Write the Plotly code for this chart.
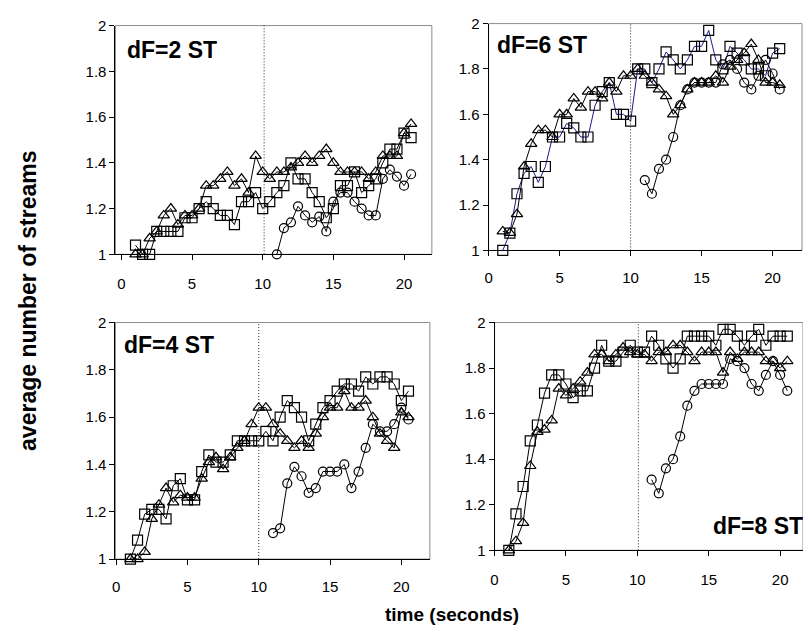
import plotly.graph_objects as go

# ---------------- data ----------------
TIME = [1, 1.5, 2, 2.5, 3, 3.5, 4, 4.5, 5, 5.5, 6, 6.5, 7, 7.5, 8, 8.5, 9, 9.5, 10, 10.5,
        11, 11.5, 12, 12.5, 13, 13.5, 14, 14.5, 15, 15.5, 16, 16.5, 17, 17.5, 18, 18.5, 19, 19.5, 20, 20.5]
TIME_LATE = [11, 11.5, 12, 12.5, 13, 13.5, 14, 14.5, 15, 15.5, 16, 16.5, 17, 17.5, 18, 18.5, 19, 19.5, 20, 20.5]

# dF = 2 ST
df2_square = [1.04, 1.0, 1.0, 1.1, 1.1, 1.1, 1.1, 1.16, 1.16, 1.2, 1.23, 1.2, 1.17, 1.17, 1.13, 1.23, 1.23, 1.27, 1.2, 1.23,
              1.27, 1.3, 1.4, 1.33, 1.33, 1.27, 1.23, 1.16, 1.2, 1.3, 1.3, 1.36, 1.27, 1.3, 1.33, 1.4, 1.46, 1.46, 1.53, 1.51]
df2_triangle = [1.0, 1.0, 1.07, 1.1, 1.17, 1.2, 1.13, 1.17, 1.17, 1.2, 1.3, 1.3, 1.33, 1.36, 1.3, 1.33, 1.27, 1.43, 1.36, 1.33,
                1.36, 1.36, 1.38, 1.4, 1.43, 1.4, 1.43, 1.46, 1.4, 1.36, 1.36, 1.36, 1.36, 1.33, 1.36, 1.43, 1.43, 1.43, 1.53, 1.57]
df2_circle = [1.0, 1.115, 1.14, 1.21, 1.17, 1.14, 1.165, 1.1, 1.23, 1.27, 1.27, 1.23, 1.2, 1.17, 1.17, 1.33, 1.37, 1.34, 1.3, 1.35]

# dF = 6 ST
df6_square = [1.0, 1.076, 1.25, 1.34, 1.37, 1.3, 1.37, 1.5, 1.5, 1.56, 1.54, 1.5, 1.5, 1.64, 1.7, 1.74, 1.6, 1.6, 1.57, 1.8,
              1.8, 1.74, 1.8, 1.875, 1.84, 1.8, 1.84, 1.9, 1.9, 1.97, 1.84, 1.8, 1.9, 1.87, 1.84, 1.8, 1.8, 1.77, 1.87, 1.89]
df6_triangle = [1.084, 1.077, 1.16, 1.37, 1.47, 1.53, 1.53, 1.5, 1.6, 1.6, 1.67, 1.63, 1.7, 1.7, 1.67, 1.74, 1.7, 1.77, 1.77, 1.8,
                1.77, 1.74, 1.71, 1.68, 1.6, 1.64, 1.71, 1.74, 1.74, 1.74, 1.77, 1.74, 1.81, 1.84, 1.87, 1.91, 1.84, 1.74, 1.74, 1.73]
df6_circle = [1.31, 1.25, 1.36, 1.4, 1.5, 1.64, 1.71, 1.74, 1.74, 1.74, 1.74, 1.82, 1.84, 1.8, 1.74, 1.71, 1.77, 1.84, 1.78, 1.71]

# dF = 4 ST
df4_square = [1.0, 1.08, 1.19, 1.21, 1.21, 1.17, 1.31, 1.34, 1.25, 1.25, 1.37, 1.44, 1.41, 1.41, 1.44, 1.5, 1.5, 1.5, 1.5, 1.54,
              1.5, 1.6, 1.67, 1.64, 1.6, 1.5, 1.57, 1.64, 1.67, 1.71, 1.74, 1.74, 1.71, 1.77, 1.74, 1.77, 1.77, 1.74, 1.67, 1.71]
df4_triangle = [1.0, 1.0, 1.03, 1.17, 1.23, 1.3, 1.24, 1.27, 1.26, 1.26, 1.34, 1.41, 1.43, 1.38, 1.43, 1.47, 1.5, 1.57, 1.64, 1.64,
                1.57, 1.53, 1.5, 1.47, 1.5, 1.47, 1.53, 1.6, 1.64, 1.64, 1.71, 1.64, 1.64, 1.67, 1.6, 1.53, 1.5, 1.47, 1.62, 1.6]
df4_circle = [1.11, 1.13, 1.32, 1.39, 1.35, 1.28, 1.3, 1.37, 1.37, 1.37, 1.4, 1.3, 1.37, 1.47, 1.57, 1.54, 1.54, 1.57, 1.64, 1.59]

# dF = 8 ST
df8_square = [1.0, 1.16, 1.28, 1.48, 1.55, 1.69, 1.77, 1.77, 1.73, 1.67, 1.7, 1.7, 1.8, 1.9, 1.83, 1.83, 1.87, 1.9, 1.87, 1.87,
              1.94, 1.9, 1.84, 1.8, 1.84, 1.94, 1.94, 1.94, 1.94, 1.9, 1.97, 1.97, 1.94, 1.9, 1.94, 1.97, 1.9, 1.94, 1.94, 1.94]
df8_triangle = [1.0, 1.04, 1.12, 1.37, 1.52, 1.53, 1.57, 1.71, 1.68, 1.71, 1.74, 1.78, 1.86, 1.86, 1.83, 1.86, 1.89, 1.87, 1.86, 1.86,
                1.83, 1.87, 1.87, 1.9, 1.9, 1.87, 1.83, 1.87, 1.87, 1.87, 1.78, 1.87, 1.84, 1.87, 1.87, 1.87, 1.83, 1.83, 1.8, 1.83]
df8_circle = [1.31, 1.25, 1.36, 1.4, 1.5, 1.635, 1.7, 1.73, 1.73, 1.73, 1.73, 1.84, 1.83, 1.8, 1.73, 1.7, 1.77, 1.83, 1.77, 1.7]

PANEL_LABELS = ["dF=2 ST", "dF=6 ST", "dF=4 ST", "dF=8 ST"]
Y_TICKS = [1, 1.2, 1.4, 1.6, 1.8, 2]
X_TICKS = [0, 5, 10, 15, 20]
Y_TITLE = "average number of streams"
X_TITLE = "time (seconds)"

# ---------------- layout helpers ----------------
W, H = 803, 643
FONT = "Liberation Sans, Arial, sans-serif"


def px_x(p):
    return p / W


def px_y(p):
    return 1 - p / H


# panel geometry in pixels: (left, right, top, bottom); label position in pixels (left x, centre y)
panels = [
    dict(box=(112, 430, 17, 252), xr=[-0.42, 21.97], sq=df2_square, tr=df2_triangle, ci=df2_circle,
         sqline="black", vline=10.1, label=PANEL_LABELS[0], lab=(122, 42), standoff=11),
    dict(box=(487, 802, 15, 248), xr=[0, 22.07], sq=df6_square, tr=df6_triangle, ci=df6_circle,
         sqline="#1a1a8c", vline=10, label=PANEL_LABELS[1], lab=(493, 37), standoff=9),
    dict(box=(112, 428, 322, 565), xr=[-0.05, 22.0], sq=df4_square, tr=df4_triangle, ci=df4_circle,
         sqline="black", vline=10, label=PANEL_LABELS[2], lab=(119, 345), standoff=9),
    dict(box=(493, 803, 322, 556), xr=[0, 21.6], sq=df8_square, tr=df8_triangle, ci=df8_circle,
         sqline="black", vline=10.07, label=PANEL_LABELS[3], lab=(711, 531), standoff=11),
]

fig = go.Figure()
layout = dict(width=W, height=H, margin=dict(l=0, r=0, t=0, b=0),
              paper_bgcolor="white", plot_bgcolor="white", showlegend=False,
              font=dict(family=FONT, color="black", size=15))
shapes = []
annotations = []

for i, p in enumerate(panels, start=1):
    xa = "x" if i == 1 else f"x{i}"
    ya = "y" if i == 1 else f"y{i}"
    l, r, t, b = p["box"]
    layout["xaxis" if i == 1 else f"xaxis{i}"] = dict(
        domain=[px_x(l), min(px_x(r), 1.0)], range=p["xr"], anchor=ya,
        tickvals=X_TICKS, ticks="outside", ticklen=5, tickcolor="black",
        showline=True, linecolor="black", linewidth=1, showgrid=False, zeroline=False,
        ticklabelstandoff=p["standoff"], tickfont=dict(size=15))
    layout["yaxis" if i == 1 else f"yaxis{i}"] = dict(
        domain=[px_y(b), px_y(t)], range=[1, 2], anchor=xa,
        tickvals=Y_TICKS, ticks="outside", ticklen=5, tickcolor="black",
        showline=True, linecolor="black", linewidth=1, showgrid=False, zeroline=False,
        tickfont=dict(size=15))

    # frame (grey top/right border)
    shapes.append(dict(type="rect", xref=f"{xa} domain", yref=f"{ya} domain",
                       x0=0, x1=1, y0=0, y1=1, line=dict(color="#8c8c8c", width=1), layer="below"))
    # dotted vertical line
    shapes.append(dict(type="line", xref=xa, yref=f"{ya} domain", x0=p["vline"], x1=p["vline"],
                       y0=0, y1=1, line=dict(color="#222222", width=1, dash="1px,2px")))

    fig.add_trace(go.Scatter(x=TIME, y=p["sq"], xaxis=xa, yaxis=ya, mode="lines+markers",
                             line=dict(color=p["sqline"], width=1),
                             marker=dict(symbol="square-open", size=10, color="black",
                                         line=dict(width=1.2, color="black")),
                             cliponaxis=False))
    fig.add_trace(go.Scatter(x=TIME, y=p["tr"], xaxis=xa, yaxis=ya, mode="lines+markers",
                             line=dict(color="black", width=1),
                             marker=dict(symbol="triangle-up-open", size=10, color="black",
                                         line=dict(width=1.2, color="black")),
                             cliponaxis=False))
    fig.add_trace(go.Scatter(x=TIME_LATE, y=p["ci"], xaxis=xa, yaxis=ya, mode="lines+markers",
                             line=dict(color="black", width=1),
                             marker=dict(symbol="circle-open", size=9, color="black",
                                         line=dict(width=1.2, color="black")),
                             cliponaxis=False))

    lx, ly = p["lab"]
    annotations.append(dict(text=f"<b>{p['label']}</b>", xref="paper", yref="paper",
                            x=px_x(lx), y=px_y(ly), xanchor="left", yanchor="middle", showarrow=False,
                            font=dict(size=23, family=FONT)))

annotations.append(dict(text=f"<b>{Y_TITLE}</b>", xref="paper", yref="paper", x=px_x(24), y=px_y(300),
                        textangle=-90, showarrow=False, xanchor="center", yanchor="middle",
                        font=dict(size=23)))
annotations.append(dict(text=f"<b>{X_TITLE}</b>", xref="paper", yref="paper", x=px_x(450), y=px_y(622),
                        showarrow=False, xanchor="center", yanchor="middle", font=dict(size=19)))

layout["shapes"] = shapes
layout["annotations"] = annotations
fig.update_layout(**layout)
fig.write_html("out.html", config={"displayModeBar": False},
               post_script="document.body.style.margin='0px';")
